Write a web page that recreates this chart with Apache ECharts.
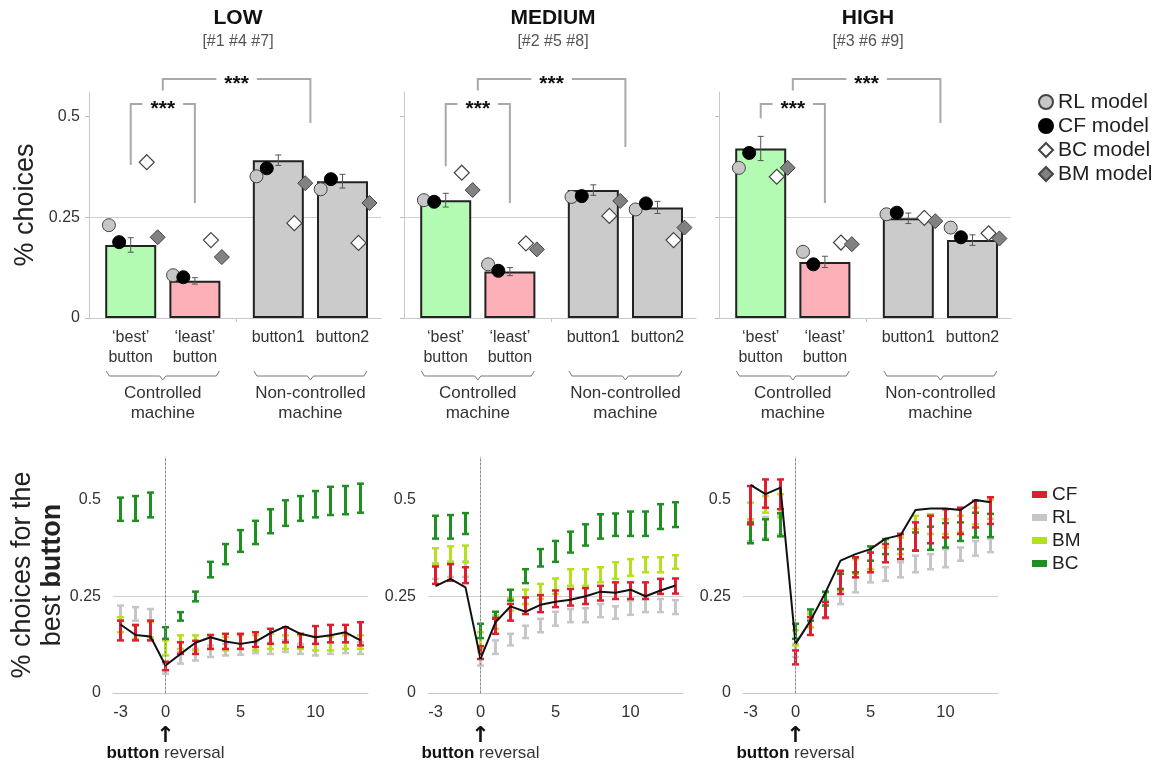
<!DOCTYPE html>
<html><head><meta charset="utf-8">
<script src="https://cdn.jsdelivr.net/npm/echarts@6/dist/echarts.min.js"></script>
<style>html,body{margin:0;padding:0;background:#fff}#c{width:1164px;height:765px}</style>
</head><body><div id="c"></div><script>
const FONT = "'Liberation Sans', Arial, sans-serif";

// ---------- labels ----------
const panelTitles = ['LOW', 'MEDIUM', 'HIGH'];
const panelSubtitles = ['[#1 #4 #7]', '[#2 #5 #8]', '[#3 #6 #9]'];
const barCategories = ['\u2018best\u2019\nbutton', '\u2018least\u2019\nbutton', 'button1', 'button2'];
const machineGroups = ['Controlled\nmachine', 'Non-controlled\nmachine'];
const modelNames = ['RL model', 'CF model', 'BC model', 'BM model'];
const curveNames = ['CF', 'RL', 'BM', 'BC'];
const topTickLabels = [0, 0.25, 0.5];
const bottomYTickLabels = [0, 0.25, 0.5];
const bottomXTickLabels = [-3, 0, 5, 10];
const reversalLag = 0;

// ---------- top panels: observed bars (mean, sem) ----------
const obsLow = [0.181, 0.092, 0.391, 0.339];
const semLow = [0.018, 0.008, 0.013, 0.017];
const obsMed = [0.292, 0.115, 0.317, 0.274];
const semMed = [0.017, 0.010, 0.013, 0.015];
const obsHigh = [0.420, 0.139, 0.247, 0.193];
const semHigh = [0.030, 0.014, 0.013, 0.013];
// model predictions
const rlLow = [0.230, 0.106, 0.351, 0.319];
const cfLow = [0.188, 0.101, 0.371, 0.344];
const bcLow = [0.386, 0.193, 0.235, 0.186];
const bmLow = [0.200, 0.151, 0.334, 0.285];
const rlMed = [0.292, 0.133, 0.300, 0.269];
const cfMed = [0.288, 0.117, 0.302, 0.284];
const bcMed = [0.360, 0.185, 0.253, 0.193];
const bmMed = [0.317, 0.170, 0.290, 0.224];
const rlHigh = [0.372, 0.164, 0.257, 0.224];
const cfHigh = [0.409, 0.133, 0.261, 0.200];
const bcHigh = [0.350, 0.187, 0.248, 0.210];
const bmHigh = [0.372, 0.183, 0.240, 0.197];
// significance brackets: leg bottoms [left, right]
const sigInnerTop = 0.53, sigOuterTop = 0.592;
const sigInnerLegs = [[0.379, 0.285], [0.376, 0.285], [0.495, 0.285]];
const sigOuterLegs = [[0.564, 0.483], [0.564, 0.424], [0.564, 0.483]];

// ---------- bottom panels ----------
const lags = [-3, -2, -1, 0, 1, 2, 3, 4, 5, 6, 7, 8, 9, 10, 11, 12, 13];
// LOW
const lowDataLine = [0.177,0.150,0.146,0.071,0.101,0.130,0.144,0.133,0.127,0.133,0.155,0.172,0.153,0.144,0.149,0.157,0.136];
const lowCFhi = [0.187,0.176,0.187,0.081,0.131,0.135,0.150,0.153,0.153,0.157,0.166,0.170,0.153,0.173,0.176,0.176,0.183];
const lowCFlo = [0.136,0.136,0.136,0.059,0.101,0.101,0.114,0.114,0.114,0.119,0.127,0.131,0.119,0.127,0.131,0.131,0.123];
const lowRLhi = [0.226,0.222,0.217,0.076,0.106,0.114,0.123,0.127,0.127,0.131,0.130,0.136,0.127,0.127,0.131,0.131,0.131];
const lowRLlo = [0.187,0.187,0.187,0.050,0.076,0.084,0.093,0.097,0.099,0.103,0.101,0.106,0.101,0.097,0.101,0.103,0.101];
const lowBMhi = [0.196,0.174,0.183,0.136,0.149,0.149,0.149,0.145,0.149,0.149,0.153,0.149,0.149,0.145,0.145,0.149,0.149];
const lowBMlo = [0.157,0.140,0.144,0.097,0.114,0.110,0.114,0.110,0.114,0.110,0.114,0.114,0.114,0.110,0.110,0.114,0.114];
const lowBChi = [0.505,0.509,0.518,0.170,0.209,0.262,0.339,0.385,0.421,0.445,0.475,0.498,0.509,0.522,0.533,0.535,0.541];
const lowBClo = [0.445,0.445,0.454,0.140,0.187,0.237,0.299,0.333,0.365,0.385,0.413,0.432,0.445,0.454,0.460,0.462,0.466];
// MEDIUM
const medDataLine = [0.276,0.295,0.273,0.088,0.183,0.224,0.210,0.228,0.236,0.241,0.250,0.262,0.259,0.267,0.250,0.265,0.278];
const medCFhi = [0.327,0.333,0.325,0.121,0.194,0.230,0.247,0.253,0.265,0.269,0.271,0.277,0.286,0.286,0.286,0.295,0.296];
const medCFlo = [0.282,0.290,0.284,0.088,0.153,0.187,0.204,0.209,0.222,0.226,0.230,0.239,0.243,0.243,0.243,0.256,0.257];
const medRLhi = [0.335,0.340,0.340,0.106,0.136,0.153,0.174,0.192,0.210,0.217,0.219,0.230,0.224,0.239,0.243,0.243,0.240];
const medRLlo = [0.295,0.300,0.300,0.071,0.101,0.123,0.142,0.157,0.174,0.183,0.183,0.196,0.192,0.202,0.209,0.209,0.204];
const medBMhi = [0.374,0.379,0.381,0.157,0.200,0.245,0.267,0.282,0.296,0.320,0.320,0.325,0.338,0.346,0.351,0.351,0.356];
const medBMlo = [0.333,0.338,0.338,0.114,0.166,0.213,0.230,0.243,0.256,0.277,0.277,0.286,0.295,0.303,0.312,0.312,0.321];
const medBChi = [0.458,0.460,0.465,0.179,0.210,0.267,0.320,0.372,0.393,0.417,0.436,0.462,0.464,0.469,0.469,0.488,0.493];
const medBClo = [0.399,0.399,0.411,0.142,0.192,0.239,0.284,0.327,0.339,0.363,0.381,0.399,0.406,0.406,0.406,0.424,0.429];
// HIGH
const highDataLine = [0.538,0.514,0.531,0.127,0.187,0.260,0.342,0.359,0.372,0.399,0.408,0.473,0.477,0.477,0.473,0.499,0.493];
const highCFhi = [0.535,0.552,0.552,0.110,0.196,0.235,0.316,0.351,0.363,0.385,0.411,0.441,0.458,0.475,0.479,0.497,0.506];
const highCFlo = [0.436,0.479,0.475,0.074,0.150,0.195,0.256,0.299,0.312,0.338,0.346,0.368,0.387,0.402,0.411,0.428,0.437];
const highRLhi = [0.449,0.455,0.460,0.127,0.209,0.239,0.265,0.299,0.320,0.325,0.338,0.355,0.359,0.372,0.376,0.393,0.399];
const highRLlo = [0.393,0.400,0.410,0.093,0.170,0.192,0.230,0.260,0.286,0.290,0.299,0.312,0.320,0.325,0.342,0.355,0.364];
const highBMhi = [0.492,0.509,0.514,0.162,0.204,0.260,0.312,0.346,0.363,0.376,0.402,0.458,0.462,0.449,0.458,0.479,0.500];
const highBMlo = [0.449,0.466,0.454,0.123,0.170,0.226,0.265,0.308,0.320,0.338,0.359,0.424,0.411,0.411,0.415,0.436,0.450];
const highBChi = [0.441,0.449,0.465,0.179,0.216,0.262,0.308,0.351,0.379,0.398,0.411,0.415,0.430,0.439,0.441,0.466,0.463];
const highBClo = [0.387,0.396,0.405,0.140,0.187,0.226,0.269,0.312,0.342,0.359,0.372,0.368,0.370,0.376,0.393,0.402,0.403];

// ---------- assembly ----------
const obs = [obsLow, obsMed, obsHigh];
const sem = [semLow, semMed, semHigh];
const models = [[rlLow, cfLow, bcLow, bmLow], [rlMed, cfMed, bcMed, bmMed], [rlHigh, cfHigh, bcHigh, bmHigh]];
const curves = [
  {line: lowDataLine, hi: [lowCFhi, lowRLhi, lowBMhi, lowBChi], lo: [lowCFlo, lowRLlo, lowBMlo, lowBClo]},
  {line: medDataLine, hi: [medCFhi, medRLhi, medBMhi, medBChi], lo: [medCFlo, medRLlo, medBMlo, medBClo]},
  {line: highDataLine, hi: [highCFhi, highRLhi, highBMhi, highBChi], lo: [highCFlo, highRLlo, highBMlo, highBClo]}
];

const barPos = barCategories.map((_, i) => i + 1 + (i >= 2 ? 0.3 : 0));
const gapTick = (barPos[1] + barPos[2]) / 2;
const barColors = ['#b3fbb3', '#fbb1b7', '#cbcbcb', '#cbcbcb'];
const modelOffset = [-0.34, -0.18, 0.25, 0.42];
const modelStyle = [
  {symbol: 'circle', size: 13, color: '#c6c6c6', border: '#444', bw: 1},
  {symbol: 'circle', size: 13, color: '#000', border: '#000', bw: 1},
  {symbol: 'diamond', size: 15, color: '#ffffff', border: '#444', bw: 1.2},
  {symbol: 'diamond', size: 15, color: '#818181', border: '#444', bw: 1}
];
const curveColors = ['#de1e2e', '#c6c6c6', '#b5e01c', '#1f8f22'];
const drawOrder = [1, 2, 3, 0]; // RL, BM, BC, CF

const topLeft = [89, 404, 719];
const botLeft = [113, 428, 743];

const grid = new Array(6), xAxis = new Array(6), yAxis = new Array(6), series = [], graphic = [];
const none = 'rgba(0,0,0,0)';

function topErrRender(params, api) {
  const x = api.value(0), lo = api.value(1), hi = api.value(2);
  const a = api.coord([x, lo]), b = api.coord([x, hi]), w = 3;
  const st = {stroke: '#555', lineWidth: 1};
  return {type: 'group', children: [
    {type: 'line', shape: {x1: a[0], y1: a[1], x2: b[0], y2: b[1]}, style: st},
    {type: 'line', shape: {x1: a[0] - w, y1: a[1], x2: a[0] + w, y2: a[1]}, style: st},
    {type: 'line', shape: {x1: b[0] - w, y1: b[1], x2: b[0] + w, y2: b[1]}, style: st}
  ]};
}
function sigRender(params, api) {
  const xl = api.value(0), xr = api.value(1), yt = api.value(2), yl = api.value(3), yr = api.value(4);
  const p1 = api.coord([xl, yl]), p2 = api.coord([xl, yt]), p3 = api.coord([xr, yt]), p4 = api.coord([xr, yr]);
  return {type: 'group', children: [
    {type: 'polyline', shape: {points: [p1, p2, p3, p4]}, style: {stroke: '#a9a9a9', lineWidth: 2, fill: 'none'}},
    {type: 'text', x: (p2[0] + p3[0]) / 2, y: p2[1] + 5, style: {text: '***', fontSize: 21, fontWeight: 'bold', fontFamily: FONT, fill: '#111', align: 'center', verticalAlign: 'middle', backgroundColor: '#fff', padding: [0, 8]}}
  ]};
}
function braceRender(params, api) {
  const xs = api.value(0), xe = api.value(1);
  const a = api.coord([xs, 0]), b = api.coord([xe, 0]);
  const y = a[1] + 58, xm = (a[0] + b[0]) / 2;
  return {type: 'group', children: [
    {type: 'polyline', shape: {points: [[a[0], y - 5], [a[0] + 3, y], [xm - 3, y], [xm, y + 4], [xm + 3, y], [b[0] - 3, y], [b[0], y - 5]]}, style: {stroke: '#777', lineWidth: 1, fill: 'none'}},
    {type: 'text', x: xm, y: y + 7, style: {text: machineGroups[params.dataIndex], fontSize: 17, lineHeight: 20, fontFamily: FONT, fill: '#333', align: 'center', verticalAlign: 'top'}}
  ]};
}
function reversalRender(params, api) {
  const p = api.coord([api.value(0), 0]);
  return {type: 'group', children: [
    {type: 'text', x: p[0], y: p[1] + 43, style: {text: '\u2191', fontSize: 22, fontWeight: 'bold', fontFamily: "'DejaVu Sans', sans-serif", fill: '#111', align: 'center', verticalAlign: 'middle'}},
    {type: 'text', x: p[0], y: p[1] + 60, style: {text: '{b|button}{r| reversal}', align: 'center', verticalAlign: 'middle',
      rich: {b: {fontSize: 17, fontWeight: 'bold', fill: '#111', fontFamily: FONT}, r: {fontSize: 17, fill: '#333', fontFamily: FONT}}}}
  ]};
}
function makeErrRender(color) {
  return function (params, api) {
    const x = api.value(0), lo = api.value(1), hi = api.value(2);
    const a = api.coord([x, lo]), b = api.coord([x, hi]), w = 3.5;
    return {type: 'group', children: [
      {type: 'line', shape: {x1: a[0], y1: a[1], x2: b[0], y2: b[1]}, style: {stroke: color, lineWidth: 3}},
      {type: 'line', shape: {x1: a[0] - w, y1: a[1], x2: a[0] + w, y2: a[1]}, style: {stroke: color, lineWidth: 2.5}},
      {type: 'line', shape: {x1: b[0] - w, y1: b[1], x2: b[0] + w, y2: b[1]}, style: {stroke: color, lineWidth: 2.5}}
    ]};
  };
}

for (let p = 0; p < 3; p++) {
  // ---- top grid ----
  grid[p] = {left: topLeft[p], top: 92, width: 292, height: 226, containLabel: false, outerBoundsMode: 'none'};
  xAxis[p] = {
    gridIndex: p, type: 'value', min: 0.35, max: 4.9,
    axisLine: {show: true, lineStyle: {color: '#c8c8c8', width: 1}},
    axisTick: {show: true, customValues: [gapTick], length: 4, lineStyle: {color: '#c8c8c8'}},
    splitLine: {show: false},
    axisLabel: {show: true, customValues: barPos, margin: 10, fontSize: 16, lineHeight: 20, color: '#333', fontFamily: FONT, hideOverlap: false,
      formatter: v => { const i = barPos.findIndex(b => Math.abs(b - v) < 1e-6); return i >= 0 ? barCategories[i] : ''; }}
  };
  yAxis[p] = {
    gridIndex: p, type: 'value', min: 0, max: 0.56, interval: 0.25,
    axisLine: {show: true, lineStyle: {color: '#c8c8c8', width: 1}},
    axisTick: {show: true, length: 4, customValues: topTickLabels, lineStyle: {color: '#bdbdbd'}},
    axisLabel: {show: p === 0, customValues: topTickLabels, margin: 9, fontSize: 16, color: '#333', fontFamily: FONT},
    splitLine: {show: true, lineStyle: {color: [none, '#d0d0d0', none, none], width: 1}},
    name: p === 0 ? '% choices' : '', nameLocation: 'middle', nameRotate: 90, nameGap: 50,
    nameTextStyle: {fontSize: 27, color: '#222', fontFamily: FONT}
  };
  series.push({
    type: 'bar', xAxisIndex: p, yAxisIndex: p, barWidth: 51, z: 2,
    itemStyle: {borderColor: '#222', borderWidth: 2},
    data: barPos.map((x, j) => ({value: [x, obs[p][j]], itemStyle: {color: barColors[j]}}))
  });
  series.push({
    type: 'custom', xAxisIndex: p, yAxisIndex: p, z: 3, renderItem: topErrRender,
    encode: {x: 0, y: [1, 2]},
    data: barPos.map((x, j) => [x, obs[p][j] - sem[p][j], obs[p][j] + sem[p][j]])
  });
  for (let m = 0; m < 4; m++) {
    const s = modelStyle[m];
    series.push({
      type: 'scatter', name: modelNames[m], xAxisIndex: p, yAxisIndex: p, z: 4,
      symbol: s.symbol, symbolSize: s.size,
      itemStyle: {color: s.color, borderColor: s.border, borderWidth: s.bw, opacity: 1},
      data: barPos.map((x, j) => [x + modelOffset[m], models[p][m][j]])
    });
  }
  series.push({
    type: 'custom', xAxisIndex: p, yAxisIndex: p, z: 5, renderItem: sigRender, clip: false,
    encode: {x: [0, 1], y: [2]},
    data: [
      [barPos[0], barPos[1], sigInnerTop, sigInnerLegs[p][0], sigInnerLegs[p][1]],
      [(barPos[0] + barPos[1]) / 2, (barPos[2] + barPos[3]) / 2, sigOuterTop, sigOuterLegs[p][0], sigOuterLegs[p][1]]
    ]
  });
  series.push({
    type: 'custom', xAxisIndex: p, yAxisIndex: p, z: 5, renderItem: braceRender, clip: false,
    encode: {x: [0, 1]},
    data: [[barPos[0] - 0.38, barPos[1] + 0.38], [barPos[2] - 0.38, barPos[3] + 0.38]]
  });
  // titles
  const cx = topLeft[p] + 146 + 3;
  graphic.push({type: 'text', x: cx, y: 18, style: {text: panelTitles[p], fontSize: 21, fontWeight: 'bold', fontFamily: FONT, fill: '#111', align: 'center', verticalAlign: 'middle'}});
  graphic.push({type: 'text', x: cx, y: 42, style: {text: panelSubtitles[p], fontSize: 16, fontFamily: FONT, fill: '#555', align: 'center', verticalAlign: 'middle'}});

  // ---- bottom grid ----
  const g = 3 + p;
  grid[g] = {left: botLeft[p], top: 457, width: 255, height: 236, containLabel: false, outerBoundsMode: 'none'};
  xAxis[g] = {
    gridIndex: g, type: 'value', min: -3.5, max: 13.5,
    axisLine: {show: true, lineStyle: {color: '#c8c8c8', width: 1}},
    axisTick: {show: false}, splitLine: {show: false},
    axisLabel: {customValues: bottomXTickLabels, showMinLabel: true, showMaxLabel: true, hideOverlap: false,
      margin: 11, fontSize: 16.5, color: '#333', fontFamily: FONT}
  };
  yAxis[g] = {
    gridIndex: g, type: 'value', min: 0, max: 0.61, interval: 0.25,
    axisLine: {show: true, lineStyle: {color: '#c8c8c8', width: 1}},
    axisTick: {show: false},
    axisLabel: {customValues: bottomYTickLabels, margin: 12, fontSize: 16, color: '#333', fontFamily: FONT},
    splitLine: {show: true, lineStyle: {color: [none, '#d0d0d0', none, none], width: 1}},
    name: p === 0 ? '{n|% choices for the}\n{n|best }{b|button}' : '',
    nameLocation: 'middle', nameRotate: 90, nameGap: 33,
    nameTextStyle: {rich: {
      n: {fontSize: 27, lineHeight: 30, color: '#222', fontFamily: FONT},
      b: {fontSize: 27, lineHeight: 30, fontWeight: 'bold', color: '#222', fontFamily: FONT}
    }}
  };
  for (const k of drawOrder) {
    series.push({
      type: 'custom', name: curveNames[k], xAxisIndex: g, yAxisIndex: g, z: 3,
      itemStyle: {color: curveColors[k]},
      renderItem: makeErrRender(curveColors[k]),
      encode: {x: 0, y: [1, 2]},
      data: lags.map((x, i) => [x, curves[p].lo[k][i], curves[p].hi[k][i]])
    });
  }
  series.push({
    type: 'line', xAxisIndex: g, yAxisIndex: g, z: 4, symbol: 'none',
    lineStyle: {color: '#111', width: 2},
    data: lags.map((x, i) => [x, curves[p].line[i]]),
    markLine: {silent: true, symbol: ['none', 'none'], label: {show: false},
      lineStyle: {color: '#888', type: [2, 2], width: 1}, data: [{xAxis: reversalLag}]}
  });
  series.push({
    type: 'custom', xAxisIndex: g, yAxisIndex: g, z: 5, clip: false, silent: true,
    renderItem: reversalRender, encode: {x: 0},
    data: [[reversalLag]]
  });
}

const chart = echarts.init(document.getElementById('c'), null, {renderer: 'canvas'});
chart.setOption({
  animation: false,
  backgroundColor: '#fff',
  textStyle: {fontFamily: FONT},
  grid, xAxis, yAxis, series, graphic,
  legend: [
    {orient: 'vertical', left: 1038, top: 91, padding: 0, itemWidth: 14, itemHeight: 14, itemGap: 2,
      selectedMode: false, data: modelNames,
      textStyle: {fontSize: 21, lineHeight: 22, color: '#222', fontFamily: FONT}},
    {orient: 'vertical', left: 1032, top: 484, padding: 0, itemWidth: 15, itemHeight: 7, itemGap: 2,
      selectedMode: false,
      data: curveNames.map((n, k) => ({name: n, icon: 'rect', itemStyle: {color: curveColors[k]}})),
      textStyle: {fontSize: 19, lineHeight: 21, color: '#222', fontFamily: FONT}}
  ]
});
</script></body></html>
